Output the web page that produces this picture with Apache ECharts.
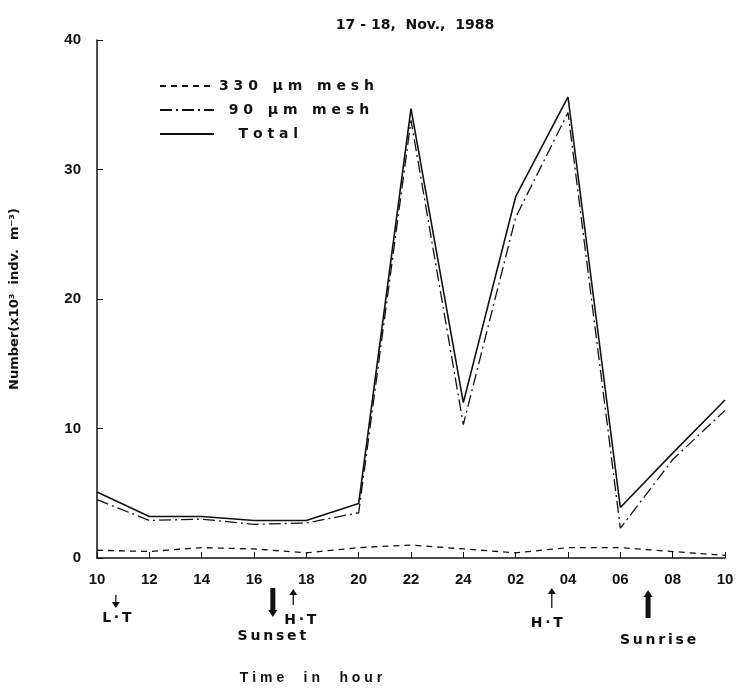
<!DOCTYPE html>
<html>
<head>
<meta charset="utf-8">
<script src="https://cdn.jsdelivr.net/npm/echarts@6/dist/echarts.min.js"></script>
<style>
  html, body { margin: 0; padding: 0; background: #fff; }
  #main { width: 737px; height: 693px; }
</style>
</head>
<body>
<div id="main"></div>
<script>
// 时间（小时）
var hours = ['10', '12', '14', '16', '18', '20', '22', '24', '02', '04', '06', '08', '10'];
// 330 um mesh
var mesh330 = [0.6, 0.5, 0.8, 0.7, 0.4, 0.8, 1.0, 0.7, 0.4, 0.8, 0.8, 0.5, 0.2];
// 90 um mesh
var mesh90 = [4.5, 2.9, 3.0, 2.6, 2.7, 3.5, 33.8, 10.3, 26.3, 34.4, 2.3, 7.6, 11.4];
// Total
var total = [5.1, 3.2, 3.2, 2.9, 2.9, 4.2, 34.7, 12.0, 27.9, 35.6, 3.9, 8.1, 12.2];
// y轴刻度
var yTicks = [0, 10, 20, 30, 40];
// 潮汐、日出日落标注（x为类目索引位置）
var noteText = ['L·T', 'Sunset', 'H·T', 'H·T', 'Sunrise'];
var noteAt = [0.36, 3.36, 3.75, 8.69, 10.53];
var noteDir = ['down', 'down', 'up', 'up', 'up'];
var noteThick = [false, true, false, false, true];

// 标注排版（箭头起止、文字偏移，单位px，相对x轴）
var noteLayout = [
    { a0: 37, a1: 50, dx: 1, ty: 60 },
    { a0: 30, a1: 59, dx: -1, ty: 78 },
    { a0: 31, a1: 47, dx: 7, ty: 62 },
    { a0: 30, a1: 50, dx: -5, ty: 65 },
    { a0: 32, a1: 60, dx: 10, ty: 82 }
];

var font = 'Liberation Sans';
var wide = 'DejaVu Sans';
var sp = '\u2009';
function spaced(s) { return s.split('').join(sp); }

var myChart = echarts.init(document.getElementById('main'));

var option = {
    backgroundColor: '#fff',
    animation: false,
    title: {
        text: '17 - 18,  Nov.,  1988',
        left: 410,
        top: 13,
        textAlign: 'center',
        textStyle: { fontFamily: wide, fontSize: 14, fontWeight: 'bold', color: '#111' }
    },
    legend: {
        orient: 'vertical',
        left: 154,
        top: 74,
        itemWidth: 54,
        itemHeight: 12,
        itemGap: 10,
        // 只显示线型，不显示圆点
        itemStyle: { opacity: 0 },
        textStyle: { fontFamily: wide, fontSize: 14, fontWeight: 'bold', color: '#111' },
        data: [
            { name: '3 3 0   μ m   m e s h' },
            { name: '  9 0   μ m   m e s h' },
            { name: '    T o t a l' }
        ]
    },
    grid: { left: 97, right: 12, top: 40, bottom: 135 },
    xAxis: {
        type: 'category',
        data: hours,
        boundaryGap: false,
        name: 'T i m e     i n     h o u r',
        nameLocation: 'middle',
        nameGap: 113,
        nameTextStyle: { fontFamily: font, fontSize: 14, fontWeight: 'bold', color: '#111', padding: [0, 0, 0, -200] },
        axisLine: { lineStyle: { color: '#111', width: 1.5 } },
        axisTick: { inside: true, length: 6, lineStyle: { color: '#111' } },
        axisLabel: { fontFamily: font, fontSize: 15, fontWeight: 'bold', color: '#111', margin: 14 },
        splitLine: { show: false }
    },
    yAxis: {
        type: 'value',
        min: 0,
        max: 40,
        interval: 10,
        name: 'Number(x10³  indv.  m⁻³)',
        nameLocation: 'middle',
        nameGap: 76,
        nameTextStyle: { fontFamily: wide, fontSize: 13, fontWeight: 'bold', color: '#111' },
        axisLine: { show: true, lineStyle: { color: '#111', width: 1.5 } },
        axisTick: { show: true, inside: true, length: 6, lineStyle: { color: '#111' } },
        axisLabel: {
            fontFamily: font, fontSize: 15, fontWeight: 'bold', color: '#111', margin: 16,
            formatter: function (v) { return yTicks.indexOf(v) >= 0 ? String(v) : ''; }
        },
        splitLine: { show: false }
    },
    series: [
        {
            name: '3 3 0   μ m   m e s h',
            type: 'line',
            data: mesh330,
            symbol: 'none',
            lineStyle: { color: '#111', width: 1.3, type: [6, 5] },
            itemStyle: { color: '#111' }
        },
        {
            name: '  9 0   μ m   m e s h',
            type: 'line',
            data: mesh90,
            symbol: 'none',
            lineStyle: { color: '#111', width: 1.3, type: [12, 4, 2, 4] },
            itemStyle: { color: '#111' }
        },
        {
            name: '    T o t a l',
            type: 'line',
            data: total,
            symbol: 'none',
            lineStyle: { color: '#111', width: 1.6 },
            itemStyle: { color: '#111' }
        }
    ]
};
myChart.setOption(option);

// 箭头标注：类目轴只接受整数索引，小数位置用相邻两点插值
function xPix(v) {
    var i = Math.floor(v);
    var a = myChart.convertToPixel({ xAxisIndex: 0 }, i);
    var b = myChart.convertToPixel({ xAxisIndex: 0 }, i + 1);
    return a + (b - a) * (v - i);
}
var baseY = myChart.convertToPixel({ yAxisIndex: 0 }, 0);
var graphics = [];
noteText.forEach(function (txt, k) {
    var L = noteLayout[k];
    var px = xPix(noteAt[k]);
    var y0 = baseY + L.a0;
    var y1 = baseY + L.a1;
    var thick = noteThick[k];
    var w = thick ? 5 : 1.3;
    var hw = thick ? 4.5 : 4;
    var hl = thick ? 7 : 6;
    var shaft, head;
    if (noteDir[k] === 'down') {
        shaft = [[px, y0], [px, y1 - hl]];
        head = [[px - hw, y1 - hl], [px + hw, y1 - hl], [px, y1]];
    } else {
        shaft = [[px, y0 + hl], [px, y1]];
        head = [[px - hw, y0 + hl], [px + hw, y0 + hl], [px, y0]];
    }
    graphics.push({
        type: 'polyline', shape: { points: shaft },
        style: { stroke: '#111', lineWidth: w, fill: null }
    });
    graphics.push({
        type: 'polygon', shape: { points: head },
        style: { fill: '#111', stroke: null }
    });
    graphics.push({
        type: 'text',
        x: px + L.dx,
        y: baseY + L.ty,
        style: {
            text: spaced(txt), fill: '#111', align: 'center', verticalAlign: 'middle',
            font: 'bold 14px "DejaVu Sans"'
        }
    });
});
myChart.setOption({ graphic: graphics });
</script>
</body>
</html>
